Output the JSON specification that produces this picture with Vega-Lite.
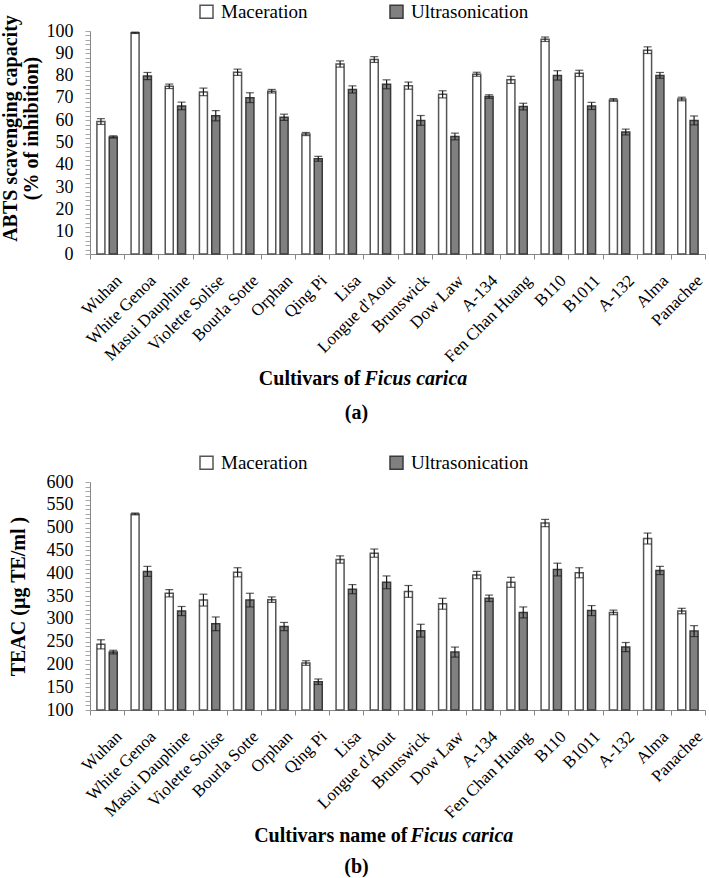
{
  "$schema": "https://vega.github.io/schema/vega-lite/v6.json",
  "padding": {"left": 0, "top": 2, "right": 0, "bottom": 0},
  "datasets": {
    "abts": [
      {"cultivar": "Wuhan", "method": "Maceration", "mean": 59.4, "sd": 1.3},
      {"cultivar": "Wuhan", "method": "Ultrasonication", "mean": 52.5, "sd": 0.5},
      {"cultivar": "White Genoa", "method": "Maceration", "mean": 99.2, "sd": 0.3},
      {"cultivar": "White Genoa", "method": "Ultrasonication", "mean": 79.8, "sd": 1.6},
      {"cultivar": "Masui Dauphine", "method": "Maceration", "mean": 75.2, "sd": 1.0},
      {"cultivar": "Masui Dauphine", "method": "Ultrasonication", "mean": 66.4, "sd": 1.7},
      {"cultivar": "Violette Solise", "method": "Maceration", "mean": 72.7, "sd": 1.7},
      {"cultivar": "Violette Solise", "method": "Ultrasonication", "mean": 62.0, "sd": 2.3},
      {"cultivar": "Bourla Sotte", "method": "Maceration", "mean": 81.5, "sd": 1.4},
      {"cultivar": "Bourla Sotte", "method": "Ultrasonication", "mean": 70.1, "sd": 2.2},
      {"cultivar": "Orphan", "method": "Maceration", "mean": 73.0, "sd": 0.8},
      {"cultivar": "Orphan", "method": "Ultrasonication", "mean": 61.3, "sd": 1.4},
      {"cultivar": "Qing Pi", "method": "Maceration", "mean": 53.8, "sd": 0.7},
      {"cultivar": "Qing Pi", "method": "Ultrasonication", "mean": 42.7, "sd": 1.1},
      {"cultivar": "Lisa", "method": "Maceration", "mean": 85.2, "sd": 1.4},
      {"cultivar": "Lisa", "method": "Ultrasonication", "mean": 73.8, "sd": 1.6},
      {"cultivar": "Longue d'Aout", "method": "Maceration", "mean": 87.2, "sd": 1.3},
      {"cultivar": "Longue d'Aout", "method": "Ultrasonication", "mean": 76.1, "sd": 2.0},
      {"cultivar": "Brunswick", "method": "Maceration", "mean": 75.5, "sd": 1.6},
      {"cultivar": "Brunswick", "method": "Ultrasonication", "mean": 59.9, "sd": 2.2},
      {"cultivar": "Dow Law", "method": "Maceration", "mean": 71.6, "sd": 1.6},
      {"cultivar": "Dow Law", "method": "Ultrasonication", "mean": 52.7, "sd": 1.5},
      {"cultivar": "A-134", "method": "Maceration", "mean": 80.6, "sd": 0.9},
      {"cultivar": "A-134", "method": "Ultrasonication", "mean": 70.6, "sd": 0.8},
      {"cultivar": "Fen Chan Huang", "method": "Maceration", "mean": 78.1, "sd": 1.6},
      {"cultivar": "Fen Chan Huang", "method": "Ultrasonication", "mean": 66.1, "sd": 1.5},
      {"cultivar": "B110", "method": "Maceration", "mean": 96.3, "sd": 1.0},
      {"cultivar": "B110", "method": "Ultrasonication", "mean": 80.1, "sd": 2.1},
      {"cultivar": "B1011", "method": "Maceration", "mean": 81.0, "sd": 1.4},
      {"cultivar": "B1011", "method": "Ultrasonication", "mean": 66.4, "sd": 1.6},
      {"cultivar": "A-132", "method": "Maceration", "mean": 69.1, "sd": 0.6},
      {"cultivar": "A-132", "method": "Ultrasonication", "mean": 54.7, "sd": 1.3},
      {"cultivar": "Alma", "method": "Maceration", "mean": 91.4, "sd": 1.5},
      {"cultivar": "Alma", "method": "Ultrasonication", "mean": 80.1, "sd": 1.3},
      {"cultivar": "Panachee", "method": "Maceration", "mean": 69.5, "sd": 0.8},
      {"cultivar": "Panachee", "method": "Ultrasonication", "mean": 59.9, "sd": 2.0}
    ],
    "teac": [
      {"cultivar": "Wuhan", "method": "Maceration", "mean": 244, "sd": 10},
      {"cultivar": "Wuhan", "method": "Ultrasonication", "mean": 227, "sd": 4},
      {"cultivar": "White Genoa", "method": "Maceration", "mean": 530, "sd": 2},
      {"cultivar": "White Genoa", "method": "Ultrasonication", "mean": 404, "sd": 11},
      {"cultivar": "Masui Dauphine", "method": "Maceration", "mean": 356, "sd": 8},
      {"cultivar": "Masui Dauphine", "method": "Ultrasonication", "mean": 317, "sd": 10},
      {"cultivar": "Violette Solise", "method": "Maceration", "mean": 341, "sd": 13},
      {"cultivar": "Violette Solise", "method": "Ultrasonication", "mean": 289, "sd": 15},
      {"cultivar": "Bourla Sotte", "method": "Maceration", "mean": 402, "sd": 10},
      {"cultivar": "Bourla Sotte", "method": "Ultrasonication", "mean": 341, "sd": 15},
      {"cultivar": "Orphan", "method": "Maceration", "mean": 342, "sd": 6},
      {"cultivar": "Orphan", "method": "Ultrasonication", "mean": 283, "sd": 9},
      {"cultivar": "Qing Pi", "method": "Maceration", "mean": 203, "sd": 5},
      {"cultivar": "Qing Pi", "method": "Ultrasonication", "mean": 162, "sd": 6},
      {"cultivar": "Lisa", "method": "Maceration", "mean": 430, "sd": 8},
      {"cultivar": "Lisa", "method": "Ultrasonication", "mean": 365, "sd": 10},
      {"cultivar": "Longue d'Aout", "method": "Maceration", "mean": 444, "sd": 9},
      {"cultivar": "Longue d'Aout", "method": "Ultrasonication", "mean": 380, "sd": 14},
      {"cultivar": "Brunswick", "method": "Maceration", "mean": 360, "sd": 13},
      {"cultivar": "Brunswick", "method": "Ultrasonication", "mean": 274, "sd": 14},
      {"cultivar": "Dow Law", "method": "Maceration", "mean": 333, "sd": 12},
      {"cultivar": "Dow Law", "method": "Ultrasonication", "mean": 227, "sd": 11},
      {"cultivar": "A-134", "method": "Maceration", "mean": 396, "sd": 8},
      {"cultivar": "A-134", "method": "Ultrasonication", "mean": 345, "sd": 7},
      {"cultivar": "Fen Chan Huang", "method": "Maceration", "mean": 380, "sd": 11},
      {"cultivar": "Fen Chan Huang", "method": "Ultrasonication", "mean": 314, "sd": 12},
      {"cultivar": "B110", "method": "Maceration", "mean": 510, "sd": 8},
      {"cultivar": "B110", "method": "Ultrasonication", "mean": 408, "sd": 14},
      {"cultivar": "B1011", "method": "Maceration", "mean": 401, "sd": 11},
      {"cultivar": "B1011", "method": "Ultrasonication", "mean": 318, "sd": 11},
      {"cultivar": "A-132", "method": "Maceration", "mean": 314, "sd": 5},
      {"cultivar": "A-132", "method": "Ultrasonication", "mean": 238, "sd": 10},
      {"cultivar": "Alma", "method": "Maceration", "mean": 476, "sd": 12},
      {"cultivar": "Alma", "method": "Ultrasonication", "mean": 406, "sd": 9},
      {"cultivar": "Panachee", "method": "Maceration", "mean": 317, "sd": 6},
      {"cultivar": "Panachee", "method": "Ultrasonication", "mean": 273, "sd": 12}
    ]
  },
  "vconcat": [
    {
      "data": {"name": "abts"},
      "width": 615,
      "height": 223,
      "title": {"text": "(a)", "orient": "bottom", "anchor": "middle", "dx": -41, "offset": 15, "fontSize": 20, "fontWeight": "bold", "font": "Liberation Serif"},
      "layer": [
        {
          "mark": {"type": "bar", "strokeWidth": 1.5},
          "encoding": {
            "x": {
              "field": "cultivar", "type": "nominal", "sort": null,
              "scale": {"paddingInner": 0, "paddingOuter": 0},
              "axis": {
                "orient": "bottom", "title": "Cultivars of", "titleX": 270, "titleY": 130,
                "titleAlign": "right", "titleBaseline": "alphabetic",
                "labelAngle": -45, "labelAlign": "right", "labelBaseline": "top",
                "labelPadding": 13, "labelOffset": 6, "tickBand": "extent"
              }
            },
            "xOffset": {"field": "method", "type": "nominal", "scale": {"paddingInner": 0.35, "paddingOuter": 0.56}},
            "y": {
              "field": "mean", "type": "quantitative",
              "scale": {"domain": [0, 100], "nice": false},
              "axis": {
                "title": ["ABTS scavenging capacity", "(% of inhibition)"],
                "titleY": 97, "titlePadding": 5, "titleLineHeight": 21,
                "values": [0,2,4,6,8,10,12,14,16,18,20,22,24,26,28,30,32,34,36,38,40,42,44,46,48,50,52,54,56,58,60,62,64,66,68,70,72,74,76,78,80,82,84,86,88,90,92,94,96,98,100],
                "labelExpr": "datum.value % 10 == 0 ? datum.label : ''",
                "labelOverlap": false, "labelPadding": 12
              }
            },
            "fill": {
              "field": "method", "type": "nominal",
              "scale": {"domain": ["Maceration", "Ultrasonication"], "range": ["#ffffff", "#808080"]},
              "legend": {"title": null, "orient": "none", "direction": "horizontal", "legendX": 107, "legendY": -29}
            },
            "stroke": {
              "field": "method", "type": "nominal",
              "scale": {"domain": ["Maceration", "Ultrasonication"], "range": ["#555555", "#3a3a3a"]},
              "legend": {"title": null, "orient": "none", "direction": "horizontal", "legendX": 107, "legendY": -29}
            }
          }
        },
        {
          "mark": {"type": "errorbar", "color": "#1a1a1a", "ticks": {"size": 8, "thickness": 1.2}, "thickness": 1.2},
          "encoding": {
            "x": {
              "field": "cultivar", "type": "nominal", "sort": null,
              "axis": {
                "orient": "bottom", "title": "Ficus carica", "titleFontStyle": "italic",
                "titleX": 274, "titleY": 130, "titleAlign": "left", "titleBaseline": "alphabetic",
                "labels": false, "ticks": false, "domain": false
              }
            },
            "xOffset": {"field": "method", "type": "nominal"},
            "y": {
              "field": "mean", "type": "quantitative",
              "axis": {
                "title": ["ABTS scavenging capacity", "(% of inhibition)"],
                "titleY": 97, "titlePadding": 5, "titleLineHeight": 21,
                "values": [0,2,4,6,8,10,12,14,16,18,20,22,24,26,28,30,32,34,36,38,40,42,44,46,48,50,52,54,56,58,60,62,64,66,68,70,72,74,76,78,80,82,84,86,88,90,92,94,96,98,100],
                "labelExpr": "datum.value % 10 == 0 ? datum.label : ''",
                "labelOverlap": false, "labelPadding": 12
              }
            },
            "yError": {"field": "sd"}
          }
        }
      ],
      "resolve": {"axis": {"x": "independent"}}
    },
    {
      "data": {"name": "teac"},
      "width": 615,
      "height": 228,
      "title": {"text": "(b)", "orient": "bottom", "anchor": "middle", "dx": -41, "offset": 12, "fontSize": 20, "fontWeight": "bold", "font": "Liberation Serif"},
      "layer": [
        {
          "mark": {"type": "bar", "strokeWidth": 1.5},
          "encoding": {
            "x": {
              "field": "cultivar", "type": "nominal", "sort": null,
              "scale": {"paddingInner": 0, "paddingOuter": 0},
              "axis": {
                "orient": "bottom", "title": "Cultivars name of", "titleX": 317, "titleY": 131,
                "titleAlign": "right", "titleBaseline": "alphabetic",
                "labelAngle": -45, "labelAlign": "right", "labelBaseline": "top",
                "labelPadding": 13, "labelOffset": 6, "tickBand": "extent"
              }
            },
            "xOffset": {"field": "method", "type": "nominal", "scale": {"paddingInner": 0.35, "paddingOuter": 0.56}},
            "y": {
              "field": "mean", "type": "quantitative",
              "scale": {"domain": [100, 600], "nice": false, "zero": false},
              "axis": {
                "title": "TEAC (µg TE/ml )",
                "titlePadding": 18,
                "values": [100,110,120,130,140,150,160,170,180,190,200,210,220,230,240,250,260,270,280,290,300,310,320,330,340,350,360,370,380,390,400,410,420,430,440,450,460,470,480,490,500,510,520,530,540,550,560,570,580,590,600],
                "labelExpr": "datum.value % 50 == 0 ? datum.label : ''",
                "labelOverlap": false, "labelPadding": 12
              }
            },
            "y2": {"datum": 100},
            "fill": {
              "field": "method", "type": "nominal",
              "scale": {"domain": ["Maceration", "Ultrasonication"], "range": ["#ffffff", "#808080"]},
              "legend": {"title": null, "orient": "none", "direction": "horizontal", "legendX": 107, "legendY": -29}
            },
            "stroke": {
              "field": "method", "type": "nominal",
              "scale": {"domain": ["Maceration", "Ultrasonication"], "range": ["#555555", "#3a3a3a"]},
              "legend": {"title": null, "orient": "none", "direction": "horizontal", "legendX": 107, "legendY": -29}
            }
          }
        },
        {
          "mark": {"type": "errorbar", "color": "#1a1a1a", "ticks": {"size": 8, "thickness": 1.2}, "thickness": 1.2},
          "encoding": {
            "x": {
              "field": "cultivar", "type": "nominal", "sort": null,
              "axis": {
                "orient": "bottom", "title": "Ficus carica", "titleFontStyle": "italic",
                "titleX": 320, "titleY": 131, "titleAlign": "left", "titleBaseline": "alphabetic",
                "labels": false, "ticks": false, "domain": false
              }
            },
            "xOffset": {"field": "method", "type": "nominal"},
            "y": {
              "field": "mean", "type": "quantitative",
              "axis": {
                "title": "TEAC (µg TE/ml )",
                "titlePadding": 18,
                "values": [100,110,120,130,140,150,160,170,180,190,200,210,220,230,240,250,260,270,280,290,300,310,320,330,340,350,360,370,380,390,400,410,420,430,440,450,460,470,480,490,500,510,520,530,540,550,560,570,580,590,600],
                "labelExpr": "datum.value % 50 == 0 ? datum.label : ''",
                "labelOverlap": false, "labelPadding": 12
              }
            },
            "yError": {"field": "sd"}
          }
        }
      ],
      "resolve": {"axis": {"x": "independent"}}
    }
  ],
  "spacing": 30,
  "resolve": {"legend": {"fill": "independent", "stroke": "independent"}},
  "config": {
    "font": "Liberation Serif",
    "view": {"stroke": null},
    "axis": {
      "labelFont": "Liberation Serif", "titleFont": "Liberation Serif",
      "labelColor": "#000000", "titleColor": "#000000",
      "labelFontSize": 18, "titleFontSize": 20, "titleFontWeight": "bold",
      "domainColor": "#868686", "tickColor": "#a6a6a6", "tickSize": 5, "grid": false
    },
    "axisX": {"labelFontSize": 17, "tickColor": "#868686"},
    "legend": {
      "labelFont": "Liberation Serif", "labelFontSize": 19, "labelColor": "#000000",
      "symbolType": "square", "symbolSize": 169, "symbolStrokeWidth": 1.5,
      "columnPadding": 79, "labelOffset": 5
    }
  }
}
